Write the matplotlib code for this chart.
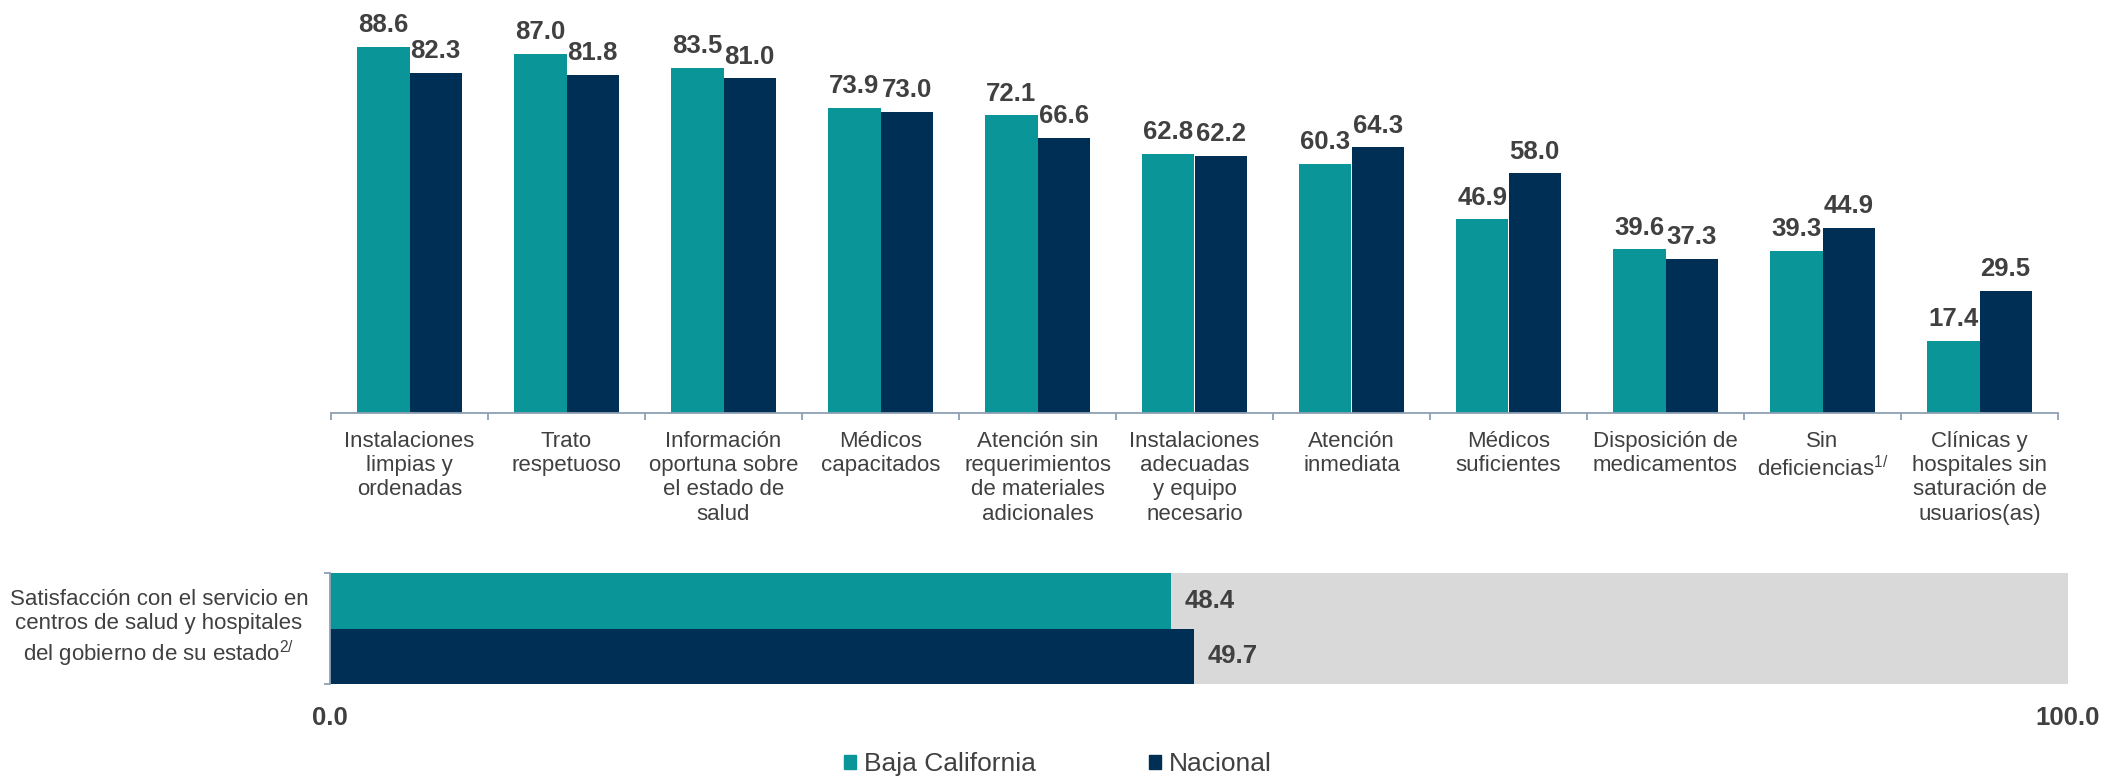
import matplotlib
matplotlib.use("Agg")
import matplotlib.pyplot as plt
from matplotlib.patches import Patch
import numpy as np

# data
categories = [
    "Instalaciones\nlimpias y\nordenadas",
    "Trato\nrespetuoso",
    "Información\noportuna sobre\nel estado de\nsalud",
    "Médicos\ncapacitados",
    "Atención sin\nrequerimientos\nde materiales\nadicionales",
    "Instalaciones\nadecuadas\ny equipo\nnecesario",
    "Atención\ninmediata",
    "Médicos\nsuficientes",
    "Disposición de\nmedicamentos",
    "Sin\ndeficiencias$^{1/}$",
    "Clínicas y\nhospitales sin\nsaturación de\nusuarios(as)",
]
baja_california = [88.6, 87.0, 83.5, 73.9, 72.1, 62.8, 60.3, 46.9, 39.6, 39.3, 17.4]
nacional = [82.3, 81.8, 81.0, 73.0, 66.6, 62.2, 64.3, 58.0, 37.3, 44.9, 29.5]

satisf_label = ("Satisfacción con el servicio en\ncentros de salud y hospitales\n"
                "del gobierno de su estado$^{2/}$")
satisf_bc = 48.4
satisf_nac = 49.7
series_names = ["Baja California", "Nacional"]

# colors
TEAL = "#0A9698"
NAVY = "#002F56"
GRAY = "#D9D9D9"
TXT = "#404040"
SPINE = "#8FA0B3"

plt.rcParams["font.family"] = ["Liberation Sans", "DejaVu Sans"]
plt.rcParams["mathtext.fontset"] = "custom"
plt.rcParams["mathtext.rm"] = "Liberation Sans"
plt.rcParams["mathtext.it"] = "Liberation Sans:italic"
plt.rcParams["mathtext.bf"] = "Liberation Sans:bold"

W, H = 2122, 777
fig = plt.figure(figsize=(W / 100, H / 100), dpi=100)

# --- top grouped bars ---
ax = fig.add_axes([331 / W, 1 - 413 / H, (2058 - 331) / W, 413 / H])
n = len(categories)
x = np.arange(n) + 0.5
bw = 1 / 3
b1 = ax.bar(x - bw / 2, baja_california, bw, color=TEAL)
b2 = ax.bar(x + bw / 2, nacional, bw, color=NAVY)
for bars, vals in ((b1, baja_california), (b2, nacional)):
    for r, v in zip(bars, vals):
        ax.annotate(f"{v:.1f}", (r.get_x() + r.get_width() / 2, v),
                    xytext=(0, 7), textcoords="offset points",
                    ha="center", va="bottom", fontsize=18.5,
                    fontweight="bold", color=TXT, annotation_clip=False)

ax.set_xlim(0, n)
ax.set_ylim(0, 100)
for s in ("top", "right", "left"):
    ax.spines[s].set_visible(False)
ax.spines["bottom"].set_color(SPINE)
ax.spines["bottom"].set_linewidth(1.3)
ax.set_yticks([])
ax.set_xticks(np.arange(n + 1))
ax.set_xticklabels([])
ax.tick_params(axis="x", which="major", length=5, width=1.3, color=SPINE)
ax.set_xticks(x, minor=True)
ax.set_xticklabels(categories, minor=True, fontsize=16, color=TXT)
ax.tick_params(axis="x", which="minor", length=0, pad=13)

# --- bottom horizontal bars ---
ax2 = fig.add_axes([330 / W, 1 - 684 / H, (2068 - 330) / W, (684 - 573) / H])
ax2.barh(0.5, 100, height=2, color=GRAY)
ax2.barh(1, satisf_bc, height=1, color=TEAL)
ax2.barh(0, satisf_nac, height=1, color=NAVY)
for yy, v in ((1, satisf_bc), (0, satisf_nac)):
    ax2.annotate(f"{v:.1f}", (v, yy), xytext=(10, 0), textcoords="offset points",
                 ha="left", va="center", fontsize=18.5, fontweight="bold", color=TXT)
ax2.set_xlim(0, 100)
ax2.set_ylim(-0.5, 1.5)
for s in ("top", "right", "bottom"):
    ax2.spines[s].set_visible(False)
ax2.spines["left"].set_color(SPINE)
ax2.spines["left"].set_linewidth(1.3)
ax2.set_yticks([-0.5, 1.5])
ax2.set_yticklabels([])
ax2.tick_params(axis="y", length=4, width=1.3, color=SPINE)
ax2.set_xticks([0, 100])
ax2.set_xticklabels(["0.0", "100.0"], fontsize=18.5, fontweight="bold", color=TXT)
ax2.tick_params(axis="x", length=0, pad=16)

fig.text(159 / W, 1 - 629 / H, satisf_label, ha="center", va="center",
         multialignment="center", fontsize=16, color=TXT)

# legend
handles = [Patch(color=TEAL), Patch(color=NAVY)]
fig.legend(handles, series_names, loc="center", bbox_to_anchor=(1058 / W, 1 - 764 / H),
           ncol=2, frameon=False, fontsize=19, handlelength=0.45, handleheight=0.45,
           handletextpad=0.3, columnspacing=4.3, borderpad=0, labelcolor=TXT)

fig.savefig("out.png", dpi=100)
